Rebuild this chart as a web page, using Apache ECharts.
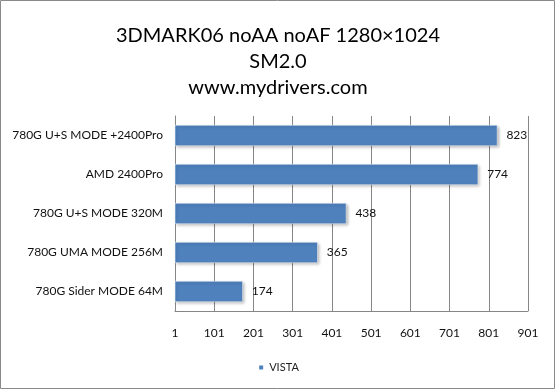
<!DOCTYPE html>
<html><head><meta charset="utf-8">
<script src="https://cdn.jsdelivr.net/npm/echarts@6/dist/echarts.min.js"></script>
<style>html,body{margin:0;padding:0;background:#fff}#c{width:556px;height:390px}</style>
</head><body><div id="c"></div>
<script>
var categories = ['780G U+S MODE +2400Pro', 'AMD 2400Pro', '780G U+S MODE 320M', '780G UMA MODE 256M', '780G Sider MODE 64M'];
var vistaValues = [823, 774, 438, 365, 174];
var seriesName = 'VISTA';
var titleLines = ['3DMARK06 noAA noAF 1280×1024', 'SM2.0', 'www.mydrivers.com'];
var axisMin = 1, axisMax = 901, axisStep = 100;

var chart = echarts.init(document.getElementById('c'), null, {renderer: 'canvas'});
chart.setOption({
  backgroundColor: '#fff',
  animation: false,
  textStyle: {fontFamily: 'Lato'},
  title: {
    text: titleLines.join('\n'),
    left: 'center', top: 18, padding: [5, 17, 5, 5],
    textStyle: {fontFamily: 'Lato', fontSize: 20, fontWeight: 'normal', color: '#000', lineHeight: 26}
  },
  legend: {
    data: [seriesName], bottom: 12, left: 'center',
    itemWidth: 6, itemHeight: 6, itemGap: 4, icon: 'rect',
    textStyle: {fontFamily: 'Lato', fontSize: 11, color: '#222'}
  },
  grid: {left: 175, right: 28, top: 116, bottom: 79, containLabel: false},
  xAxis: {
    type: 'value', min: axisMin, max: axisMax, interval: axisStep,
    axisLine: {show: true, lineStyle: {color: '#868686'}},
    axisTick: {show: true, length: 4, inside: true, lineStyle: {color: '#868686'}},
    splitLine: {show: true, lineStyle: {color: '#868686'}},
    axisLabel: {margin: 16, fontSize: 12, color: '#111', fontFamily: 'Lato'}
  },
  yAxis: {
    type: 'category', data: categories, inverse: true,
    axisLine: {show: true, lineStyle: {color: '#868686'}},
    axisTick: {show: false},
    axisLabel: {margin: 12, fontSize: 12, color: '#111', fontFamily: 'Lato'}
  },
  series: [{
    name: seriesName, type: 'bar', data: vistaValues, barWidth: 21,
    itemStyle: {color: '#4F81BD', borderColor: '#fff', borderWidth: 0.5,
      shadowColor: 'rgba(0,0,0,0.35)', shadowBlur: 3, shadowOffsetX: 1.5, shadowOffsetY: 1.5},
    label: {show: true, position: 'right', distance: 9, fontSize: 12, color: '#111', fontFamily: 'Lato'}
  }],
  graphic: [{type: 'rect', shape: {x: 0.5, y: 0.5, width: 554, height: 388},
    style: {fill: 'none', stroke: '#8a8a8a', lineWidth: 1}, z: 100}]
});
</script></body></html>
